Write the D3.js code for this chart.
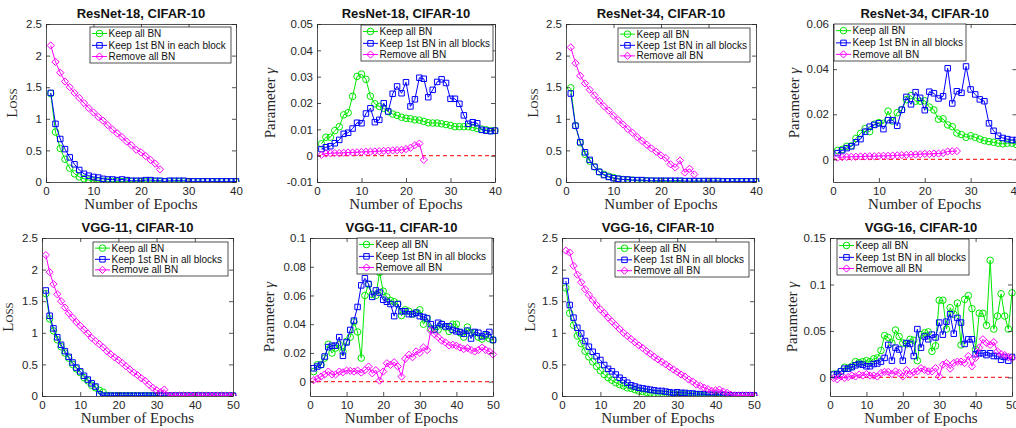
<!DOCTYPE html>
<html><head><meta charset="utf-8">
<script src="https://cdn.jsdelivr.net/npm/d3@7"></script>
<style>body{margin:0;background:#fff}svg{display:block}</style>
</head><body>
<svg id="chart" width="1016" height="428"></svg>
<script>
// ---------- data ----------
const seriesNames = ["Keep all BN", "Keep 1st BN in all blocks", "Remove all BN"];
const seriesNamesR18 = ["Keep all BN", "Keep 1st BN in each block", "Remove all BN"];
const xTicks40 = [0, 10, 20, 30, 40];
const xTicks50 = [0, 10, 20, 30, 40, 50];
const lossTicks = [0, 0.5, 1, 1.5, 2, 2.5];

// ResNet-18 loss
const r18LossKeep = [1.40,0.79,0.53,0.36,0.22,0.13,0.08,0.05,0.03,0.02,0.015,0.012,0.01,0.01,0.008,0.007,0.006,0.006,0.005,0.005,0.005,0.004,0.004,0.004,0.004,0.003,0.003,0.003,0.003,0.003,0.003,0.002,0.002,0.002,0.002,0.002,0.002,0.002,0.002,0.002];
const r18LossFirst = [1.41,0.92,0.68,0.52,0.39,0.28,0.19,0.13,0.10,0.08,0.07,0.05,0.04,0.04,0.03,0.04,0.03,0.02,0.02,0.02,0.03,0.03,0.02,0.02,0.01,0.02,0.02,0.02,0.02,0.01,0.01,0.01,0.01,0.01,0.01,0.01,0.01,0.01,0.01,0.01];
const r18LossRemove = [2.16,1.90,1.73,1.59,1.50,1.41,1.33,1.25,1.17,1.10,1.03,0.97,0.90,0.83,0.77,0.71,0.64,0.58,0.51,0.47,0.41,0.35,0.29,0.20];
// ResNet-18 gamma
const r18GamKeep = [0.0045,0.007,0.007,0.0095,0.011,0.0155,0.0163,0.0225,0.0301,0.031,0.029,0.0226,0.0197,0.0187,0.018,0.0167,0.0158,0.0153,0.0146,0.0142,0.014,0.0136,0.0135,0.013,0.0125,0.0124,0.0124,0.0121,0.0118,0.0115,0.011,0.011,0.011,0.011,0.0107,0.0103,0.0101,0.0098,0.0095,0.0095];
const r18GamFirst = [0.0025,0.0032,0.0036,0.0047,0.006,0.0083,0.0087,0.0103,0.0125,0.0123,0.016,0.018,0.0127,0.0136,0.0199,0.0168,0.0235,0.0263,0.0237,0.0279,0.0187,0.0214,0.0296,0.0292,0.0222,0.025,0.028,0.029,0.0276,0.0216,0.0216,0.0197,0.0153,0.0121,0.0127,0.0123,0.0098,0.0095,0.0093,0.0095];
const r18GamRemove = [0.0003,0.0008,0.0009,0.001,0.001,0.0011,0.0012,0.0012,0.0013,0.0014,0.0015,0.0015,0.0016,0.0017,0.0018,0.0019,0.002,0.0021,0.0022,0.0025,0.003,0.004,0.0046,-0.0016];
// ResNet-34 loss
const r34LossKeep = [1.49,0.89,0.62,0.44,0.33,0.24,0.16,0.12,0.09,0.07,0.05,0.04,0.03,0.03,0.02,0.02,0.02,0.015,0.01,0.01,0.01,0.008,0.007,0.006,0.005,0.005,0.004,0.004,0.004,0.003,0.003,0.003,0.003,0.003,0.002,0.002,0.002,0.002,0.002,0.002];
const r34LossFirst = [1.40,0.89,0.63,0.47,0.35,0.24,0.16,0.11,0.08,0.06,0.05,0.04,0.04,0.03,0.03,0.03,0.02,0.02,0.02,0.02,0.02,0.02,0.02,0.02,0.015,0.015,0.015,0.015,0.015,0.015,0.015,0.015,0.01,0.01,0.01,0.01,0.01,0.01,0.01,0.01];
const r34LossRemove = [2.13,1.88,1.68,1.56,1.46,1.37,1.28,1.20,1.13,1.05,0.98,0.91,0.84,0.78,0.71,0.65,0.59,0.53,0.48,0.42,0.38,0.28,0.23,0.34,0.15,0.21,0.12];
// ResNet-34 gamma
const r34GamKeep = [0.004,0.0044,0.0058,0.006,0.0093,0.0115,0.0137,0.0123,0.0156,0.0163,0.016,0.0214,0.017,0.0207,0.022,0.0265,0.0283,0.0258,0.0258,0.026,0.0232,0.0219,0.0178,0.018,0.0153,0.0145,0.0117,0.011,0.0098,0.0105,0.0098,0.009,0.0083,0.0079,0.0076,0.0072,0.0069,0.0072,0.0072,0.0066];
const r34GamFirst = [0.0028,0.004,0.005,0.0058,0.0076,0.009,0.0123,0.0145,0.0153,0.016,0.0134,0.0174,0.0174,0.0149,0.022,0.0277,0.0244,0.0298,0.0273,0.0218,0.03,0.0293,0.027,0.028,0.0404,0.0248,0.0302,0.0295,0.0412,0.031,0.0288,0.0266,0.0258,0.016,0.0127,0.0105,0.0095,0.009,0.0086,0.0086];
const r34GamRemove = [0.0008,0.001,0.0011,0.0012,0.0012,0.0013,0.0013,0.0014,0.0014,0.0015,0.0016,0.0016,0.0017,0.0018,0.0019,0.002,0.0021,0.0022,0.0023,0.0025,0.0024,0.0026,0.0026,0.0028,0.0035,0.0036,0.0037];
// VGG-11 loss
const v11LossKeep = [1.62,1.22,1.03,0.89,0.78,0.68,0.60,0.50,0.43,0.37,0.29,0.24,0.17,0.13,0.09,0.06,0.005,0.005,0.005,0.005,0.005,0.005,0.005,0.005,0.005,0.005,0.005,0.005,0.005,0.005,0.005,0.005,0.005,0.005,0.005,0.005,0.005,0.005,0.005,0.005,0.005,0.005,0.005,0.005,0.005,0.005,0.005,0.005,0.005,0.005];
const v11LossFirst = [1.67,1.27,1.07,0.93,0.81,0.71,0.62,0.53,0.45,0.39,0.32,0.26,0.20,0.15,0.03,0.004,0.004,0.004,0.004,0.004,0.004,0.004,0.004,0.004,0.004,0.004,0.004,0.004,0.004,0.004,0.004,0.004,0.004,0.004,0.004,0.004,0.004,0.004,0.004,0.004,0.004,0.004,0.004,0.004,0.004,0.004,0.004,0.004,0.004,0.004];
const v11LossRemove = [2.23,1.96,1.77,1.61,1.50,1.40,1.31,1.24,1.17,1.11,1.05,0.99,0.92,0.87,0.82,0.77,0.71,0.66,0.61,0.57,0.52,0.47,0.42,0.37,0.33,0.28,0.24,0.18,0.13,0.09,0.06,0.10,0.004,0.004,0.004,0.004,0.004,0.004,0.004,0.004,0.004,0.004,0.004,0.004,0.004,0.004,0.004,0.004,0.004,0.004];
// VGG-11 gamma
const v11GamKeep = [0.007,0.0117,0.0117,0.0164,0.026,0.0199,0.0234,0.0257,0.021,0.028,0.031,0.0416,0.0346,0.0164,0.060,0.0677,0.0607,0.060,0.076,0.063,0.059,0.0565,0.0556,0.054,0.046,0.050,0.049,0.047,0.048,0.050,0.040,0.044,0.037,0.0367,0.036,0.040,0.038,0.035,0.040,0.040,0.034,0.031,0.038,0.034,0.034,0.031,0.0297,0.032,0.030,0.029];
const v11GamFirst = [0.0093,0.0105,0.0117,0.0175,0.024,0.025,0.025,0.031,0.018,0.0273,0.036,0.0425,0.052,0.067,0.072,0.068,0.059,0.0635,0.062,0.057,0.0556,0.054,0.0456,0.054,0.049,0.049,0.047,0.047,0.048,0.0456,0.045,0.044,0.040,0.036,0.041,0.040,0.0385,0.0385,0.036,0.035,0.0346,0.0334,0.0355,0.030,0.0346,0.034,0.0315,0.033,0.0346,0.029];
const v11GamRemove = [0.001,0.002,0.0035,0.005,0.007,0.005,0.005,0.007,0.0065,0.0077,0.0075,0.007,0.0077,0.0063,0.008,0.0105,0.0058,0.008,0.0007,0.007,0.0128,0.0117,0.0135,0.0105,0.0035,0.0159,0.0187,0.017,0.021,0.020,0.0238,0.022,0.0355,0.033,0.031,0.0285,0.0273,0.0252,0.0257,0.025,0.0238,0.0227,0.0234,0.022,0.021,0.022,0.0238,0.022,0.021,0.019];
// VGG-16 loss
const v16LossKeep = [1.71,1.31,1.12,0.95,0.83,0.71,0.62,0.54,0.47,0.40,0.34,0.29,0.25,0.21,0.18,0.16,0.13,0.12,0.10,0.08,0.07,0.06,0.05,0.04,0.04,0.03,0.03,0.03,0.02,0.02,0.02,0.02,0.015,0.015,0.012,0.01,0.01,0.01,0.008,0.008,0.007,0.006,0.006,0.005,0.005,0.005,0.005,0.004,0.004,0.004];
const v16LossFirst = [1.82,1.44,1.24,1.08,0.99,0.87,0.78,0.70,0.63,0.57,0.49,0.43,0.39,0.34,0.29,0.25,0.21,0.17,0.15,0.13,0.12,0.11,0.10,0.09,0.08,0.08,0.07,0.06,0.05,0.06,0.05,0.05,0.04,0.04,0.03,0.03,0.03,0.02,0.02,0.02,0.02,0.02,0.015,0.01,0.01,0.01,0.01,0.01,0.01,0.01];
const v16LossRemove = [2.30,2.27,2.06,1.92,1.80,1.69,1.60,1.52,1.44,1.37,1.31,1.24,1.18,1.12,1.06,1.00,0.95,0.90,0.85,0.80,0.76,0.71,0.67,0.62,0.58,0.54,0.50,0.46,0.42,0.38,0.34,0.31,0.26,0.23,0.18,0.16,0.13,0.11,0.08,0.09,0.10,0.07,0.05,0.02,0.01,0.01,0.01,0.01,0.01,0.01];
// VGG-16 gamma
const v16GamKeep = [0.0036,0.0036,0.0065,0.011,0.010,0.012,0.017,0.016,0.017,0.018,0.017,0.020,0.021,0.029,0.045,0.043,0.037,0.051,0.044,0.037,0.036,0.041,0.040,0.018,0.046,0.048,0.049,0.028,0.034,0.083,0.083,0.052,0.075,0.068,0.080,0.035,0.084,0.088,0.074,0.030,0.069,0.069,0.056,0.126,0.052,0.066,0.090,0.066,0.052,0.091];
const v16GamFirst = [0.003,0.0036,0.0065,0.0094,0.0094,0.011,0.013,0.0144,0.0137,0.012,0.012,0.0144,0.015,0.017,0.021,0.035,0.018,0.032,0.030,0.018,0.037,0.036,0.023,0.052,0.032,0.044,0.041,0.046,0.043,0.059,0.046,0.060,0.068,0.047,0.064,0.059,0.036,0.041,0.041,0.025,0.026,0.026,0.024,0.026,0.023,0.023,0.019,0.022,0.018,0.022];
const v16GamRemove = [-0.0007,-0.002,0.001,-0.0007,0.0004,0.002,0.001,0.003,0.002,0.0036,0.002,0.002,0.001,0.0047,0.006,0.006,0.0036,0.0065,0.0047,0.001,0.008,0.003,0.006,0.0065,0.010,0.008,0.0065,0.0065,0.010,0.001,0.0137,0.0155,0.0094,0.0155,0.017,0.017,0.0155,0.023,0.012,0.021,0.032,0.041,0.037,0.035,0.038,0.028,0.025,0.024,0.022,0.021];

// ---------- panel definitions (layout kept separate) ----------
const panels = [
  {title:"ResNet-18, CIFAR-10", kind:"loss", xTicks:xTicks40, yDomain:[0,2.5], yTicks:lossTicks, series:[r18LossKeep,r18LossFirst,r18LossRemove], names:seriesNamesR18,
   box:{l:46,r:236,t:24,b:182}, labDx:34, leg:{x:90,y:27,w:141,h:36}},
  {title:"ResNet-18, CIFAR-10", kind:"gamma", xTicks:xTicks40, yDomain:[-0.01,0.05], yTicks:[-0.01,0,0.01,0.02,0.03,0.04,0.05], series:[r18GamKeep,r18GamFirst,r18GamRemove], names:seriesNames,
   box:{l:317,r:495,t:24,b:182}, labDx:47, leg:{x:361,y:25,w:132,h:36}},
  {title:"ResNet-34, CIFAR-10", kind:"loss", xTicks:xTicks40, yDomain:[0,2.5], yTicks:lossTicks, series:[r34LossKeep,r34LossFirst,r34LossRemove], names:seriesNames,
   box:{l:566,r:756,t:24,b:182}, labDx:33, leg:{x:618,y:28,w:132,h:34}},
  {title:"ResNet-34, CIFAR-10", kind:"gamma", xTicks:xTicks40, yDomain:[-0.01,0.06], yTicks:[0,0.02,0.04,0.06], series:[r34GamKeep,r34GamFirst,r34GamRemove], names:seriesNames,
   box:{l:833,r:1016.5,t:24,b:182}, labDx:39, leg:{x:834,y:24,w:132,h:37}},
  {title:"VGG-11, CIFAR-10", kind:"loss", xTicks:xTicks50, yDomain:[0,2.5], yTicks:lossTicks, series:[v11LossKeep,v11LossFirst,v11LossRemove], names:seriesNames,
   box:{l:42,r:233,t:238,b:396}, labDx:34, leg:{x:93,y:242,w:135,h:34}},
  {title:"VGG-11, CIFAR-10", kind:"gamma", xTicks:xTicks50, yDomain:[-0.01,0.1], yTicks:[0,0.02,0.04,0.06,0.08,0.1], series:[v11GamKeep,v11GamFirst,v11GamRemove], names:seriesNames,
   box:{l:310,r:493,t:238,b:396}, labDx:41, leg:{x:357,y:238,w:135,h:36}},
  {title:"VGG-16, CIFAR-10", kind:"loss", xTicks:xTicks50, yDomain:[0,2.5], yTicks:lossTicks, series:[v16LossKeep,v16LossFirst,v16LossRemove], names:seriesNames,
   box:{l:562,r:754,t:238,b:396}, labDx:32, leg:{x:615,y:242,w:134,h:35}},
  {title:"VGG-16, CIFAR-10", kind:"gamma", xTicks:xTicks50, yDomain:[-0.02,0.15], yTicks:[0,0.05,0.1,0.15], series:[v16GamKeep,v16GamFirst,v16GamRemove], names:seriesNames,
   box:{l:830,r:1012,t:238,b:396}, labDx:38, leg:{x:837,y:239,w:132,h:36}}
];

// ---------- styles ----------
const colors = ["#00e800", "#0000ff", "#ff00ff"];
const symbolMatDiamond = {
  draw(ctx, size) {
    const r = Math.sqrt(size / 2);
    ctx.moveTo(0, -r); ctx.lineTo(r, 0); ctx.lineTo(0, r); ctx.lineTo(-r, 0); ctx.closePath();
  }
};
const symbols = [d3.symbolCircle, d3.symbolSquare, symbolMatDiamond];
const symSizes = [34, 30, 26];
const axisColor = "#262626";
const sans = "'Liberation Sans', Arial, Helvetica, sans-serif";
const serif = "'Liberation Serif', 'Times New Roman', serif";
const fmt = d => String(+d.toFixed(4));

const svg = d3.select("#chart");

function styleAxis(sel) {
  sel.select(".domain").attr("stroke", axisColor).attr("stroke-width", 0.8);
  sel.selectAll(".tick line").attr("stroke", axisColor).attr("stroke-width", 0.8);
  sel.selectAll(".tick text").attr("fill", axisColor).style("font-family", sans).style("font-size", "11.5px");
}

panels.forEach((p, pi) => {
  const g = svg.append("g");
  const b = p.box;
  const x = d3.scaleLinear().domain([0, p.xTicks[p.xTicks.length - 1]]).range([b.l, b.r]);
  const y = d3.scaleLinear().domain(p.yDomain).range([b.b, b.t]);

  const clipId = "clip" + pi;
  g.append("clipPath").attr("id", clipId).append("rect")
    .attr("x", b.l - 5).attr("y", b.t).attr("width", b.r - b.l + 10).attr("height", b.b - b.t);

  g.append("rect").attr("x", b.l).attr("y", b.t).attr("width", b.r - b.l).attr("height", b.b - b.t).attr("fill", "#fff");

  const plot = g.append("g").attr("clip-path", `url(#${clipId})`);

  if (p.kind === "gamma") {
    plot.append("line")
      .attr("x1", x(0)).attr("x2", x.range()[1])
      .attr("y1", y(0)).attr("y2", y(0))
      .attr("stroke", "#ff3030").attr("stroke-width", 1.3).attr("stroke-dasharray", "4,3");
  }

  p.series.forEach((vals, si) => {
    const pts = vals.map((v, i) => [i + 1, v]);
    plot.append("path").datum(pts)
      .attr("d", d3.line().x(d => x(d[0])).y(d => y(d[1])))
      .attr("fill", "none").attr("stroke", colors[si]).attr("stroke-width", 1);
    plot.selectAll(null).data(pts).enter().append("path")
      .attr("transform", d => `translate(${x(d[0])},${y(d[1])})`)
      .attr("d", d3.symbol().type(symbols[si]).size(symSizes[si]))
      .attr("fill", "none").attr("stroke", colors[si]).attr("stroke-width", 1);
  });

  g.append("g").attr("transform", `translate(0,${b.b})`)
    .call(d3.axisBottom(x).tickValues(p.xTicks).tickSizeInner(-4).tickSizeOuter(0).tickPadding(5).tickFormat(fmt))
    .call(styleAxis);
  g.append("g").attr("transform", `translate(0,${b.t})`)
    .call(d3.axisTop(x).tickValues(p.xTicks).tickSizeInner(-4).tickSizeOuter(0).tickFormat(() => ""))
    .call(styleAxis);
  g.append("g").attr("transform", `translate(${b.l},0)`)
    .call(d3.axisLeft(y).tickValues(p.yTicks).tickSizeInner(-4).tickSizeOuter(0).tickPadding(4).tickFormat(fmt))
    .call(styleAxis);
  g.append("g").attr("transform", `translate(${b.r},0)`)
    .call(d3.axisRight(y).tickValues(p.yTicks).tickSizeInner(-4).tickSizeOuter(0).tickFormat(() => ""))
    .call(styleAxis);

  g.append("text").attr("x", (b.l + b.r) / 2).attr("y", b.t - 6)
    .attr("text-anchor", "middle").style("font-family", sans).style("font-weight", "bold")
    .style("font-size", "13px").attr("fill", "#111").text(p.title);

  g.append("text").attr("x", (b.l + b.r) / 2).attr("y", b.b + 27)
    .attr("text-anchor", "middle").style("font-family", serif).style("font-size", "15px")
    .attr("fill", "#262626").text("Number of Epochs");

  const yl = g.append("text")
    .attr("transform", `translate(${b.l - p.labDx},${(b.t + b.b) / 2}) rotate(-90)`)
    .attr("text-anchor", "middle").attr("dominant-baseline", "central")
    .style("font-family", serif).style("font-size", "15px").attr("fill", "#262626");
  if (p.kind === "loss") {
    yl.style("font-variant", "small-caps").text("Loss");
  } else {
    yl.append("tspan").text("Parameter ");
    yl.append("tspan").style("font-style", "italic").text("γ");
  }

  const L = p.leg;
  const lg = g.append("g");
  lg.append("rect").attr("x", L.x).attr("y", L.y).attr("width", L.w).attr("height", L.h)
    .attr("fill", "#fff").attr("stroke", axisColor).attr("stroke-width", 0.8);
  const rowOff = [0.18, 0.51, 0.82];
  p.names.forEach((name, si) => {
    const ry = L.y + rowOff[si] * L.h;
    lg.append("line").attr("x1", L.x + 2).attr("x2", L.x + 17).attr("y1", ry).attr("y2", ry)
      .attr("stroke", colors[si]).attr("stroke-width", 1);
    lg.append("path").attr("transform", `translate(${L.x + 9.5},${ry})`)
      .attr("d", d3.symbol().type(symbols[si]).size(symSizes[si]))
      .attr("fill", "none").attr("stroke", colors[si]).attr("stroke-width", 1);
    lg.append("text").attr("x", L.x + 18.5).attr("y", ry).attr("dominant-baseline", "central")
      .style("font-family", sans).style("font-size", "10px").attr("fill", "#111").text(name);
  });
});
</script>
</body></html>
